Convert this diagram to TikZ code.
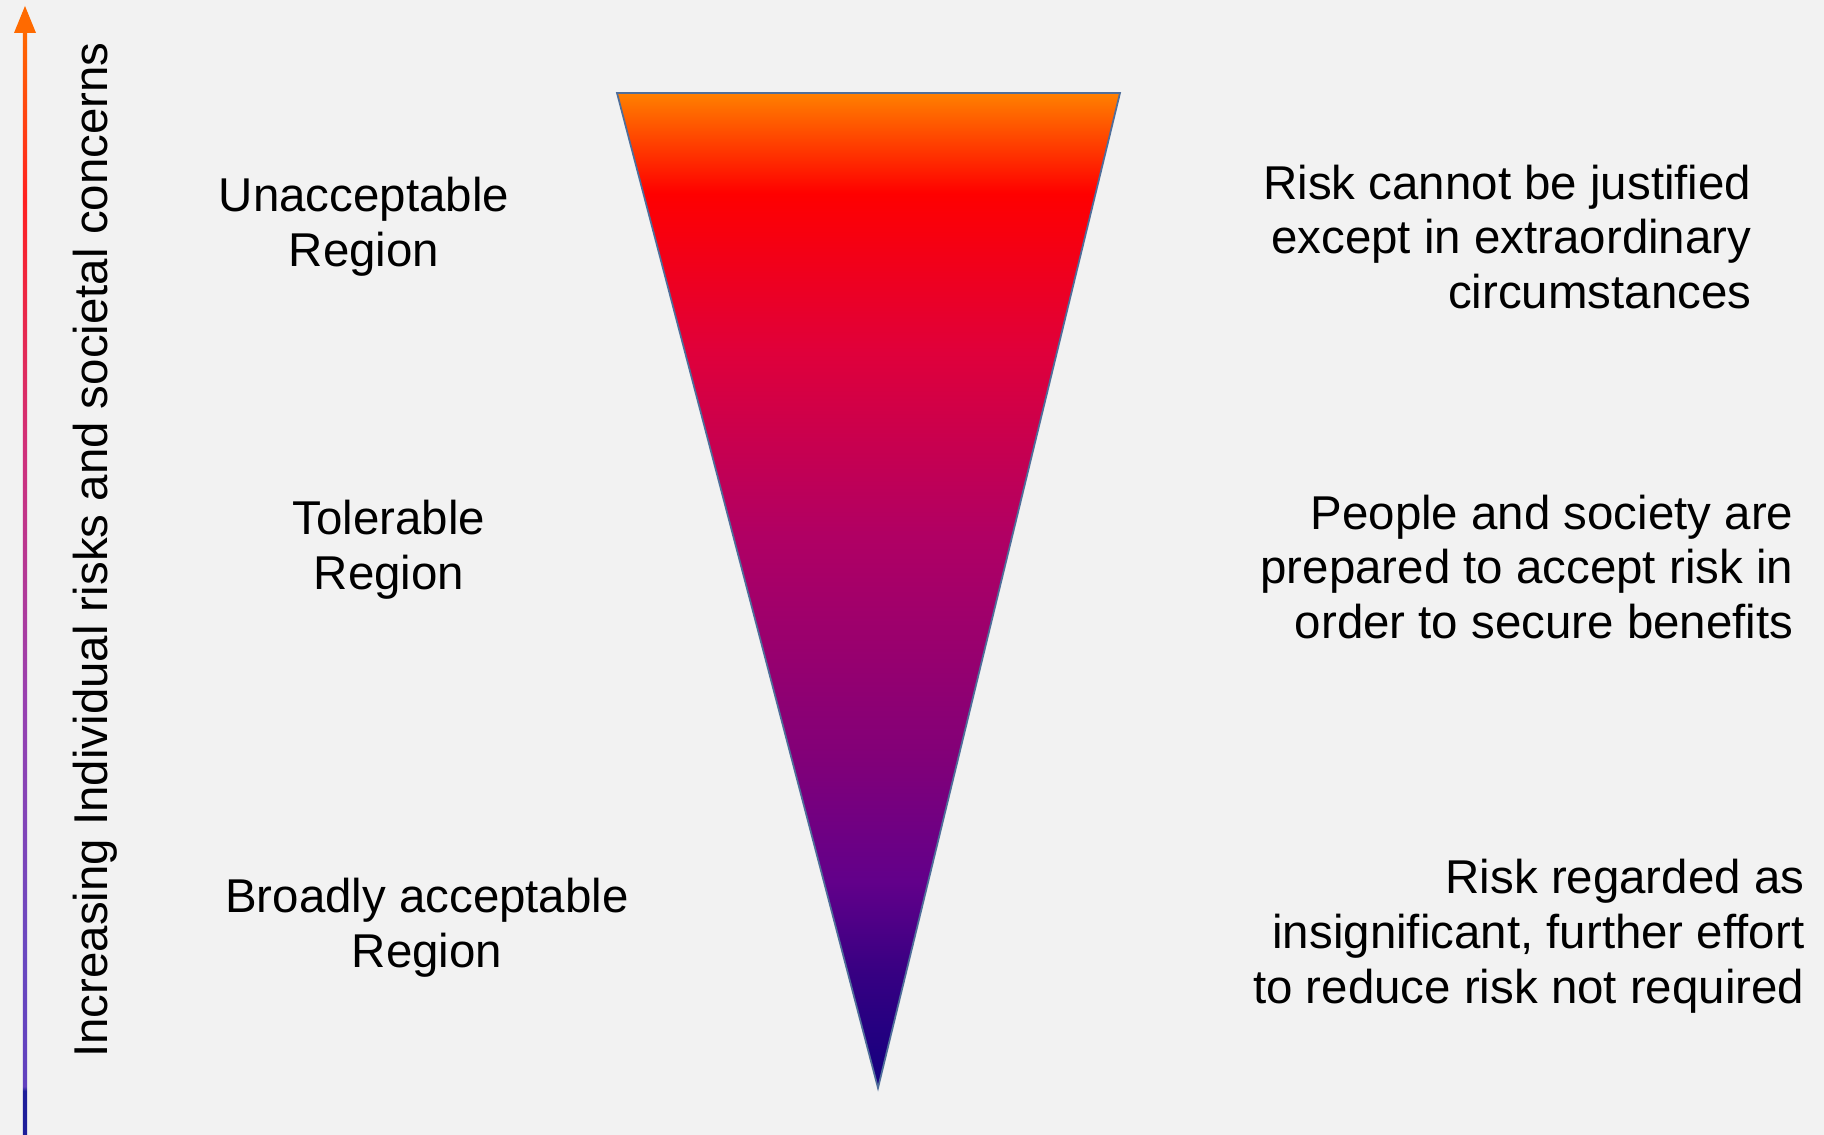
\documentclass[tikz,border=0pt]{standalone}
\usepackage{fontspec}
\setmainfont{Liberation Sans}
\usetikzlibrary{positioning,calc}

\definecolor{bgpaper}{HTML}{F2F2F2}
\definecolor{edgeblue}{HTML}{4F6E9A}
\definecolor{headorange}{HTML}{FF6A00}

% triangle stops
\definecolor{riskA}{HTML}{12007F}
\definecolor{riskB}{HTML}{360082}
\definecolor{riskC}{HTML}{62008A}
\definecolor{riskD}{HTML}{820078}
\definecolor{riskE}{HTML}{B00064}
\definecolor{riskF}{HTML}{E0003A}
\definecolor{riskG}{HTML}{FF0000}
\definecolor{riskH}{HTML}{FF8000}
% axis stops
\definecolor{axisA}{HTML}{1E1E9A}
\definecolor{axisB}{HTML}{6040BE}
\definecolor{axisC}{HTML}{6A48C0}
\definecolor{axisD}{HTML}{9840B0}
\definecolor{axisE}{HTML}{D0307A}
\definecolor{axisF}{HTML}{FF2020}
\definecolor{axisG}{HTML}{FF6A00}

% triangle fill, bottom (tip) to top
\pgfdeclareverticalshading{riskfill}{100bp}{
  color(0bp)=(riskA); color(25bp)=(riskA);
  color(30.7bp)=(riskB); color(35.4bp)=(riskC);
  color(41.7bp)=(riskD); color(52.7bp)=(riskE);
  color(62.1bp)=(riskF); color(69.95bp)=(riskG);
  color(75bp)=(riskH); color(100bp)=(riskH)}

% axis line, bottom to top
\pgfdeclareverticalshading{axisfill}{100bp}{
  color(0bp)=(axisA); color(27.0bp)=(axisA);
  color(27.2bp)=(axisB); color(33.4bp)=(axisC);
  color(44.7bp)=(axisD); color(56.05bp)=(axisE);
  color(67.4bp)=(axisF); color(75bp)=(axisG);
  color(100bp)=(axisG)}

\begin{document}
\begin{tikzpicture}[
  font=\fontsize{13.5}{15.6}\selectfont,
  region/.style={align=center, inner sep=0pt},
  note/.style={align=right, anchor=east, inner sep=0pt}]
\useasboundingbox (0,0) rectangle (18.24,11.35);
\fill[bgpaper] (0,0) rectangle (18.24,11.35);

% increasing axis
\shade[shading=axisfill] (0.23,0) rectangle (0.27,11.05);
\fill[headorange] (0.25,11.29) -- (0.36,11.02) -- (0.14,11.02) -- cycle;
\node[rotate=90, inner sep=0pt] (axislabel) at (0.95,5.85)
  {Increasing Individual risks and societal concerns};

% the triangle
\coordinate (tl) at (6.17,10.42);
\coordinate (tr) at (11.20,10.42);
\coordinate (tip) at (8.78,0.47);
\shade[shading=riskfill] (tl) -- (tr) -- (tip) -- cycle;
\draw[edgeblue, line width=0.5pt, line join=miter] (tl) -- (tr) -- (tip) -- cycle;

% regions, left
\node[region] (unacc) at (3.64,9.08) {Unacceptable\\Region};
\node[region] (toler) at (3.89,5.85) {Tolerable\\Region};
\node[region] (broad) at (4.27,2.07) {Broadly acceptable\\Region};

% notes, right
\node[note] (unaccnote) at (17.52,8.98)
  {Risk cannot be justified\\except in extraordinary\\circumstances};
\node[note] (tolernote) at (17.94,5.68)
  {People and society are\\prepared to accept risk in\\order to secure benefits};
\node[note] (broadnote) at (18.05,1.99)
  {Risk regarded as\\insignificant, further effort\\to reduce risk not required};
\end{tikzpicture}
\end{document}
